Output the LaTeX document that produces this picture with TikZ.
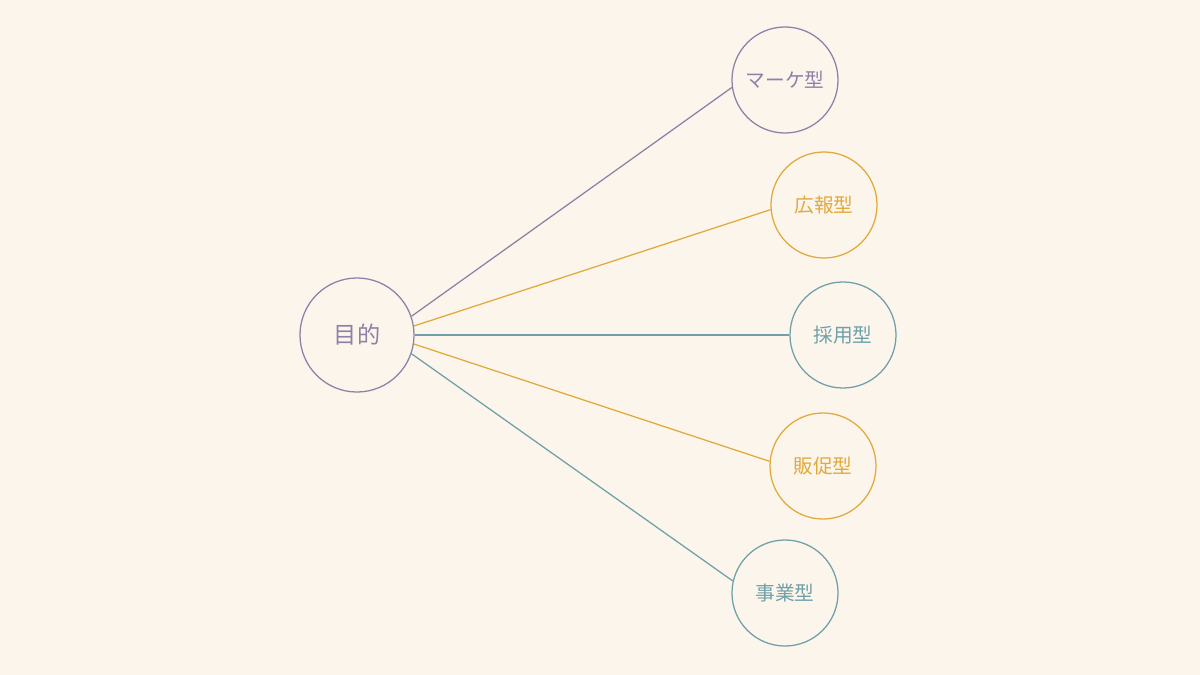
\documentclass[tikz,border=0pt]{standalone}
\usepackage{fontspec}
\setmainfont{Noto Sans CJK JP}
\usepackage{xcolor}
\definecolor{bg}{HTML}{FCF5EC}
\definecolor{mkpurple}{HTML}{8C82A8}
\definecolor{prorange}{HTML}{E2A93C}
\definecolor{reteal}{HTML}{6FA0A8}

\begin{document}
\begin{tikzpicture}[x=0.025cm,y=-0.025cm,
  hub/.style={circle,draw=mkpurple,fill=bg,line width=0.9pt,minimum size=2.85cm,inner sep=0pt,text=mkpurple,font=\fontsize{16.5}{18}\selectfont},
  kind/.style={circle,line width=0.9pt,minimum size=2.65cm,inner sep=0pt,fill=bg,font=\fontsize{14}{16}\selectfont},
  link/.style={line width=0.9pt}]
\fill[bg] (0,0) rectangle (1200,675);
\node[hub] (goal) at (357,335) {目的};
\node[kind,draw=mkpurple,text=mkpurple] (mark) at (785,80) {マーケ型};
\node[kind,draw=prorange,text=prorange] (pr) at (824,205) {広報型};
\node[kind,draw=reteal,text=reteal] (hire) at (843,335) {採用型};
\node[kind,draw=prorange,text=prorange] (sales) at (823,466) {販促型};
\node[kind,draw=reteal,text=reteal] (biz) at (785,593) {事業型};
\draw[link,mkpurple] (goal.19)--(mark.188);
\draw[link,prorange] (goal.9)--(pr.185);
\draw[link,reteal] (goal.0)--(hire.180);
\draw[link,prorange] (goal.-9)--(sales.175);
\draw[link,reteal] (goal.-19)--(biz.167);
\end{tikzpicture}
\end{document}
